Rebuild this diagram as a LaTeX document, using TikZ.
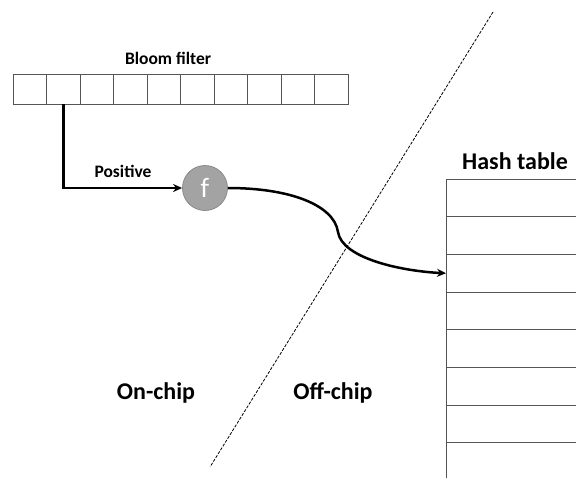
\documentclass[tikz,border=0pt]{standalone}
\usepackage{fontspec}
\setmainfont{Carlito}
\usetikzlibrary{arrows.meta}
\definecolor{cellline}{HTML}{555555}
\definecolor{circfill}{HTML}{A3A3A3}
\definecolor{circline}{HTML}{8A8A8A}
\tikzset{
  cell/.style={draw=cellline, line width=0.9pt, minimum width=33.5pt, minimum height=30pt, inner sep=0pt, outer sep=0pt, anchor=north west},
  hrow/.style={draw=cellline, line width=0.9pt, minimum width=200pt, minimum height=37.7pt, inner sep=0pt, outer sep=0pt, anchor=north west},
  lbl/.style={font=\bfseries\fontsize{17.5}{20}\selectfont, inner sep=0pt},
  biglbl/.style={font=\bfseries\fontsize{24}{28}\selectfont, inner sep=0pt},
  conn/.style={line width=2.5pt, -{Stealth[length=9pt,width=8pt]}},
  func/.style={circle, fill=circfill, draw=circline, line width=0.8pt, minimum size=45pt, inner sep=0pt, text=white, font=\fontsize{28}{30}\selectfont}
}
\begin{document}
\begin{tikzpicture}[x=1pt,y=-1pt]
\useasboundingbox (0,0) rectangle (576,477);
\clip (0,0) rectangle (576,477);
% Bloom filter
\foreach \i in {1,...,10} {
  \node[cell] (c\i) at ({13+(\i-1)*33.5},74) {};
}
\node[lbl] (bftitle) at (168,58) {Bloom filter};
% hash table
\foreach \i in {1,...,8} {
  \node[hrow] (h\i) at (446,{179+(\i-1)*37.7}) {};
}
\node[biglbl] (httitle) at (515,161) {Hash table};
% function
\node[func] (f) at (205,188) {f};
\coordinate (corner) at (c2.south |- f.west);
\draw[conn] (c2.south) -- (corner) -- (f.west);
\node[lbl] (pos) at (123,171) {Positive};
% curve
\coordinate (bend) at (338,232);
\draw[line width=2.5pt] (f.east) .. controls (290,188) and (334,205) .. (bend);
\draw[conn] (bend) .. controls (342,258) and (400,271) .. (h3.west);
% divider
\coordinate (d1) at (493,12);
\coordinate (d2) at (210,467);
\draw[line width=0.8pt, dash pattern=on 3pt off 1.5pt] (d1) -- (d2);
\node[biglbl] (on) at (156,393) {On-chip};
\node[biglbl] (off) at (333,393) {Off-chip};
\end{tikzpicture}
\end{document}
